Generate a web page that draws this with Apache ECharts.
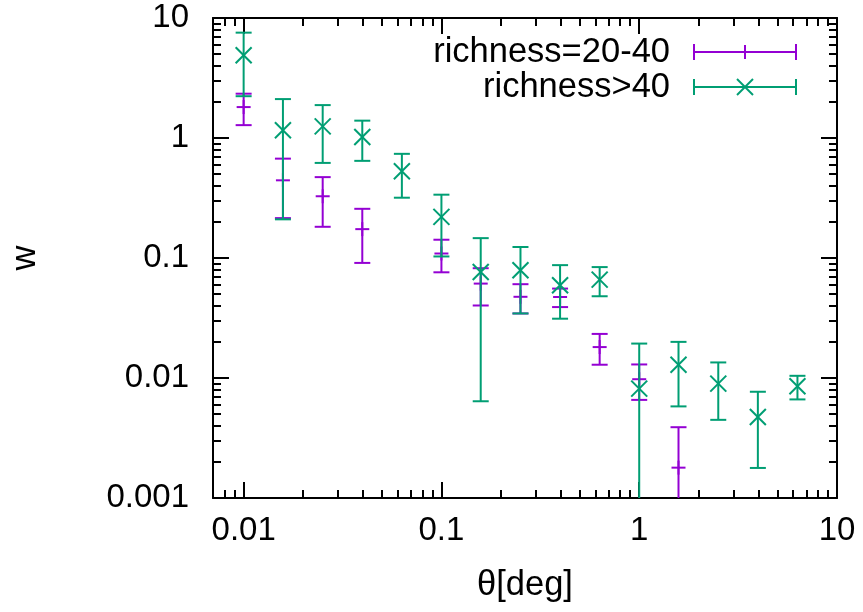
<!DOCTYPE html>
<html>
<head>
<meta charset="utf-8">
<script src="https://cdn.jsdelivr.net/npm/echarts@6/dist/echarts.min.js"></script>
<style>
html,body{margin:0;padding:0;background:#fff;}
#chart{width:863px;height:612px;}
</style>
</head>
<body>
<div id="chart"></div>
<script>
// ---- data ----
const theta = [0.01, 0.0158, 0.0251, 0.0398, 0.0631, 0.1, 0.158, 0.251, 0.398, 0.631, 1.0, 1.58, 2.51, 3.98, 6.31];
const w_20_40   = [1.81, 0.444, 0.327, 0.174, null, 0.109, 0.0612, 0.0475, 0.0473, 0.0181, 0.00977, 0.00179, null, null, null];
const err_20_40 = [0.53, 0.229, 0.145, 0.083, null, 0.033, 0.021, 0.013, 0.0083, 0.0052, 0.0032, 0.0021, null, null, null];
const w_40   = [4.89, 1.16, 1.25, 1.02, 0.528, 0.22, 0.0764, 0.079, 0.0592, 0.066, 0.00816, 0.0129, 0.00898, 0.00473, 0.00853];
const err_40 = [2.66, 0.95, 0.63, 0.375, 0.21, 0.117, 0.07, 0.0445, 0.028, 0.018, 0.0112, 0.0071, 0.0045, 0.00295, 0.0019];
const seriesNames = ['richness=20-40', 'richness>40'];
const xMajorTicks = [0.01, 0.1, 1, 10];
const xMinorTicks = [0.008, 0.009, 0.02, 0.03, 0.04, 0.05, 0.06, 0.07, 0.08, 0.09, 0.2, 0.3, 0.4, 0.5, 0.6, 0.7, 0.8, 0.9, 2, 3, 4, 5, 6, 7, 8, 9];
const yMajorTicks = [0.001, 0.01, 0.1, 1, 10];
const yMinorTicks = [0.002, 0.003, 0.004, 0.005, 0.006, 0.007, 0.008, 0.009, 0.02, 0.03, 0.04, 0.05, 0.06, 0.07, 0.08, 0.09, 0.2, 0.3, 0.4, 0.5, 0.6, 0.7, 0.8, 0.9, 2, 3, 4, 5, 6, 7, 8, 9];
const xLabel = 'θ[deg]';
const yLabel = 'w';

// ---- style ----
const FONT = "'Liberation Sans', Arial, sans-serif";
const FS = 33;
const FS_KEY = 34.5;
const colors = ['#9400d3', '#009e73'];
const LW = 2;
const CAP = 8;

function buildData(ws, es) {
  const out = [];
  for (let i = 0; i < theta.length; i++) {
    if (ws[i] != null) out.push([theta[i], ws[i], es[i]]);
  }
  return out;
}

function makeRender(color, marker) {
  return function (params, api) {
    const x = api.value(0), w = api.value(1), e = api.value(2);
    const c = api.coord([x, w]);
    const hi = api.coord([x, w + e]);
    const cs = params.coordSys;
    let loY, lowCap = true;
    if (w - e > 0) { loY = api.coord([x, w - e])[1]; }
    else { loY = cs.y + cs.height + 20; lowCap = false; }
    const st = { stroke: color, lineWidth: LW, fill: null };
    const kids = [];
    kids.push({ type: 'line', shape: { x1: c[0], y1: hi[1], x2: c[0], y2: loY }, style: st });
    kids.push({ type: 'line', shape: { x1: c[0] - CAP, y1: hi[1], x2: c[0] + CAP, y2: hi[1] }, style: st });
    if (lowCap) kids.push({ type: 'line', shape: { x1: c[0] - CAP, y1: loY, x2: c[0] + CAP, y2: loY }, style: st });
    if (marker === 'plus') {
      kids.push({ type: 'line', shape: { x1: c[0] - 7, y1: c[1], x2: c[0] + 7, y2: c[1] }, style: st });
      kids.push({ type: 'line', shape: { x1: c[0], y1: c[1] - 7, x2: c[0], y2: c[1] + 7 }, style: st });
    } else {
      kids.push({ type: 'line', shape: { x1: c[0] - 8, y1: c[1] - 8, x2: c[0] + 8, y2: c[1] + 8 }, style: st });
      kids.push({ type: 'line', shape: { x1: c[0] - 8, y1: c[1] + 8, x2: c[0] + 8, y2: c[1] - 8 }, style: st });
    }
    return { type: 'group', children: kids };
  };
}

const axisLineStyle = { color: '#000', width: 2 };
function xAxisDef(position, ticks, len, isMain) {
  return {
    type: 'log', logBase: 10, min: 0.007, max: 10, position: position,
    axisLine: { show: isMain, lineStyle: axisLineStyle },
    axisTick: { show: true, inside: true, length: len, customValues: ticks, lineStyle: { color: '#000', width: 2 } },
    axisLabel: (isMain && position === 'bottom') ? { show: true, customValues: xMajorTicks, margin: 16, color: '#000', fontSize: FS, fontFamily: FONT, formatter: v => String(v) } : { show: false },
    splitLine: { show: false },
    name: (isMain && position === 'bottom') ? xLabel : '',
    nameLocation: 'middle', nameGap: 70,
    nameTextStyle: { color: '#000', fontSize: FS_KEY, fontFamily: FONT }
  };
}
function yAxisDef(position, ticks, len, isMain) {
  return {
    type: 'log', logBase: 10, min: 0.001, max: 10, position: position,
    axisLine: { show: isMain, lineStyle: axisLineStyle },
    axisTick: { show: true, inside: true, length: len, customValues: ticks, lineStyle: { color: '#000', width: 2 } },
    axisLabel: (isMain && position === 'left') ? { show: true, customValues: yMajorTicks, margin: 24, color: '#000', fontSize: FS, fontFamily: FONT, formatter: v => String(v) } : { show: false },
    splitLine: { show: false },
    name: (isMain && position === 'left') ? yLabel : '',
    nameLocation: 'middle', nameGap: 170, nameRotate: 90,
    nameTextStyle: { color: '#000', fontSize: FS_KEY, fontFamily: FONT }
  };
}

// legend graphic
function legendEntry(i, y, marker) {
  const color = colors[i];
  const st = { stroke: color, lineWidth: LW, fill: null };
  const x1 = 694, x2 = 796, xm = 745;
  const kids = [
    { type: 'line', shape: { x1: x1, y1: y, x2: x2, y2: y }, style: st },
    { type: 'line', shape: { x1: x1, y1: y - CAP, x2: x1, y2: y + CAP }, style: st },
    { type: 'line', shape: { x1: x2, y1: y - CAP, x2: x2, y2: y + CAP }, style: st }
  ];
  if (marker === 'plus') {
    kids.push({ type: 'line', shape: { x1: xm, y1: y - 7, x2: xm, y2: y + 7 }, style: st });
  } else {
    kids.push({ type: 'line', shape: { x1: xm - 8, y1: y - 8, x2: xm + 8, y2: y + 8 }, style: st });
    kids.push({ type: 'line', shape: { x1: xm - 8, y1: y + 8, x2: xm + 8, y2: y - 8 }, style: st });
  }
  kids.push({ type: 'text', x: 670, y: y, style: { text: seriesNames[i], textAlign: 'right', textVerticalAlign: 'middle', fontSize: FS_KEY, fontFamily: FONT, fill: '#000' } });
  return { type: 'group', children: kids };
}

const chart = echarts.init(document.getElementById('chart'), null, { renderer: 'canvas' });
chart.setOption({
  backgroundColor: '#fff',
  animation: false,
  grid: { left: 208, right: 26, top: 18, bottom: 114, containLabel: false },
  xAxis: [
    xAxisDef('bottom', xMajorTicks, 16, true),
    xAxisDef('bottom', xMinorTicks, 8, false),
    xAxisDef('top', xMajorTicks, 16, true),
    xAxisDef('top', xMinorTicks, 8, false)
  ],
  yAxis: [
    yAxisDef('left', yMajorTicks, 16, true),
    yAxisDef('left', yMinorTicks, 8, false),
    yAxisDef('right', yMajorTicks, 16, true),
    yAxisDef('right', yMinorTicks, 8, false)
  ],
  series: [
    { type: 'custom', name: seriesNames[0], xAxisIndex: 0, yAxisIndex: 0, clip: true,
      renderItem: makeRender(colors[0], 'plus'), encode: { x: 0, y: 1 }, data: buildData(w_20_40, err_20_40) },
    { type: 'custom', name: seriesNames[1], xAxisIndex: 0, yAxisIndex: 0, clip: true,
      renderItem: makeRender(colors[1], 'cross'), encode: { x: 0, y: 1 }, data: buildData(w_40, err_40) }
  ],
  graphic: [ legendEntry(0, 52, 'plus'), legendEntry(1, 87, 'cross') ]
});
</script>
</body>
</html>
